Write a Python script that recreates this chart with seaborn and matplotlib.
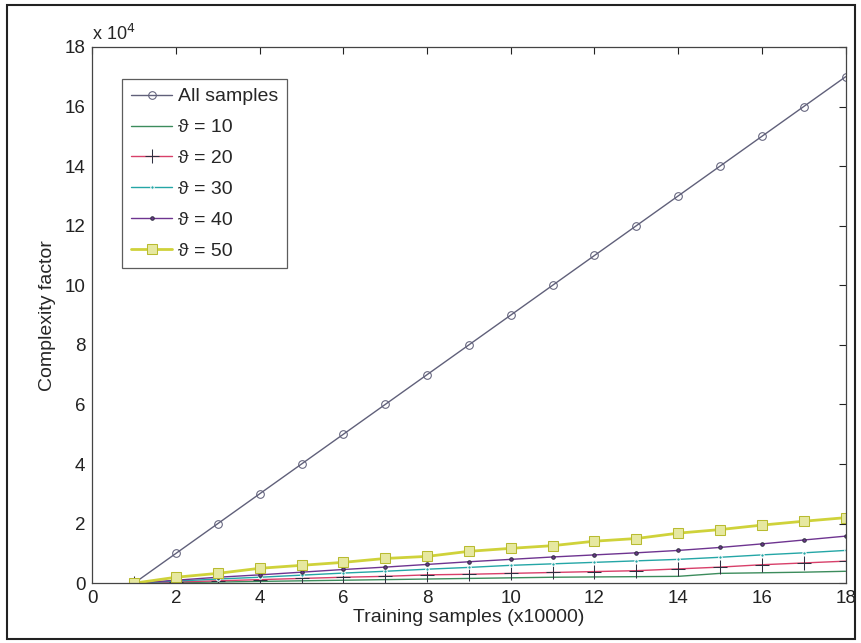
import matplotlib
matplotlib.use("Agg")
import matplotlib.pyplot as plt
from matplotlib.ticker import FuncFormatter
from matplotlib.patches import Rectangle
import seaborn as sns
import pandas as pd

# ---- data ----
x_vals = list(range(1, 19))
all_samples = [0, 10000, 20000, 30000, 40000, 50000, 60000, 70000, 80000,
               90000, 100000, 110000, 120000, 130000, 140000, 150000, 160000, 170000]
theta10 = [0, 200, 400, 600, 800, 1000, 1200, 1400, 1600, 1800, 2000, 2100,
           2200, 2300, 3300, 3500, 3700, 4000]
theta20 = [0, 400, 800, 1200, 1600, 2000, 2300, 2800, 3000, 3300, 3600, 3900,
           4200, 4800, 5400, 6200, 6800, 7400]
theta30 = [0, 700, 1400, 2000, 2700, 3400, 4000, 4700, 5300, 6000, 6500, 7000,
           7500, 8000, 8700, 9500, 10200, 11000]
theta40 = [0, 1000, 2000, 2800, 3700, 4600, 5400, 6300, 7200, 8000, 8800, 9500,
           10200, 11000, 12000, 13200, 14500, 15800]
theta50 = [0, 2000, 3300, 5000, 6000, 7000, 8300, 9000, 10700, 11700, 12600, 14100,
           15000, 16800, 18000, 19500, 20800, 22000]
labels = ["All samples", "ϑ = 10", "ϑ = 20", "ϑ = 30", "ϑ = 40", "ϑ = 50"]
x_ticks = list(range(0, 19, 2))
y_ticks = [0, 20000, 40000, 60000, 80000, 100000, 120000, 140000, 160000, 180000]

sns.set_theme(style="white")
plt.rcParams['font.family'] = ['Liberation Sans', 'DejaVu Sans']

series = [all_samples, theta10, theta20, theta30, theta40, theta50]
styles = [
    dict(color="#60607a", marker="o", markersize=5.5, markerfacecolor="none",
         markeredgecolor="#60607a", linewidth=1.0),
    dict(color="#3c8c5c", marker=None, linewidth=1.0),
    dict(color="#d8406a", marker="+", markersize=10, markeredgecolor="#303040",
         linewidth=1.0),
    dict(color="#24a6a6", marker=".", markersize=5, linewidth=1.0),
    dict(color="#6e3490", marker=".", markersize=5, markeredgecolor="#303040",
         linewidth=1.0),
    dict(color="#cfd23a", marker="s", markersize=7, markerfacecolor="#e6e8a0",
         markeredgecolor="#b8bb30", linewidth=2.0),
]

fig = plt.figure(figsize=(8.62, 6.43), dpi=100)
ax = fig.add_axes([0.107, 0.093, 0.874, 0.834])

for vals, lab, st in zip(series, labels, styles):
    df = pd.DataFrame({"x": x_vals, "y": vals})
    sns.lineplot(data=df, x="x", y="y", ax=ax, label=lab, **st)

ax.set_xlim(0, 18)
ax.set_ylim(0, 180000)
ax.set_xticks(x_ticks)
ax.set_yticks(y_ticks)
ax.yaxis.set_major_formatter(FuncFormatter(lambda v, p: f"{v/1e4:g}"))
ax.tick_params(direction="in", top=True, right=True, length=5, width=0.8,
               labelsize=13.5, colors="#222222", pad=5)
for s in ax.spines.values():
    s.set_color("#444444")
    s.set_linewidth(0.9)

ax.set_xlabel("Training samples (x10000)", fontsize=14, labelpad=1)
ax.set_ylabel("Complexity factor", fontsize=14, labelpad=6)

ax.text(0.0, 1.005, r"x 10$^{4}$", transform=ax.transAxes, fontsize=13,
        ha="left", va="bottom")

leg = ax.legend(loc="upper left", bbox_to_anchor=(0.04, 0.94), fontsize=14,
                frameon=True, fancybox=False, edgecolor="#333333",
                handlelength=2.1, handletextpad=0.3, labelspacing=0.68,
                borderpad=0.45, borderaxespad=0)
leg.get_frame().set_linewidth(0.9)

fig.patches.append(Rectangle((0.008, 0.006), 0.984, 0.986, transform=fig.transFigure,
                             fill=False, edgecolor="#222222", linewidth=1.5))

fig.savefig("out.png", dpi=100)
